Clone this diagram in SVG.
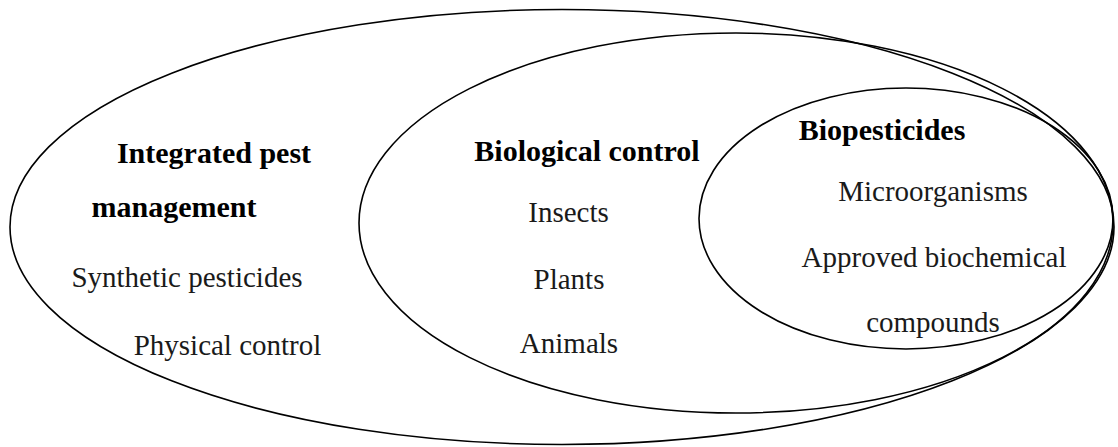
<svg xmlns="http://www.w3.org/2000/svg" width="1118" height="447" viewBox="0 0 1118 447">
<style>
.e{fill:none;stroke:#000;stroke-width:1.6}
.t{font-family:"Liberation Serif","DejaVu Serif",serif;font-size:29px;fill:#1a1a1a;text-anchor:middle}
.b{font-weight:bold;font-size:30px;fill:#000}
</style>
<rect width="1118" height="447" fill="#fff"/>
<g id="ipm">
<ellipse class="e" cx="562" cy="227" rx="552" ry="217.5"/>
<text class="t b" x="214" y="163">Integrated pest</text>
<text class="t b" x="174" y="217">management</text>
<text class="t" x="187" y="287">Synthetic pesticides</text>
<text class="t" x="227.5" y="355">Physical control</text>
</g>
<g id="biocontrol">
<ellipse class="e" cx="736" cy="223" rx="377" ry="190"/>
<text class="t b" x="587" y="161">Biological control</text>
<text class="t" x="568.5" y="222">Insects</text>
<text class="t" x="569" y="289">Plants</text>
<text class="t" x="569" y="353">Animals</text>
</g>
<g id="biopesticides">
<ellipse class="e" cx="906" cy="218.5" rx="207" ry="130.5"/>
<text class="t b" x="882" y="140">Biopesticides</text>
<text class="t" x="933" y="201">Microorganisms</text>
<text class="t" x="934" y="267">Approved biochemical</text>
<text class="t" x="933" y="332">compounds</text>
</g>
<g id="connectors"></g>
</svg>
